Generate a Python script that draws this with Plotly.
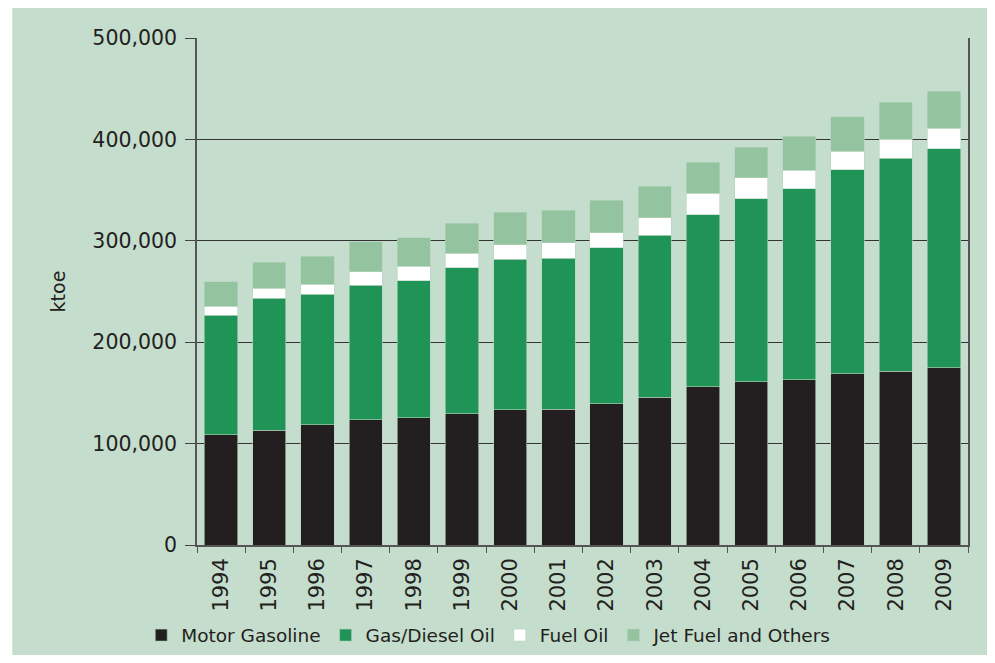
import plotly.graph_objects as go

years = [str(y) for y in range(1994, 2010)]

# ktoe
motor_gasoline = [108500, 113100, 118700, 123600, 125600, 129200, 133500, 133800,
                  139400, 145600, 156100, 161100, 163000, 168900, 171300, 174900]
gas_diesel_oil = [118300, 130200, 128800, 132800, 135100, 144300, 148500, 149200,
                  153800, 160100, 169700, 180500, 188500, 201300, 210100, 216000]
fuel_oil = [8900, 9900, 9900, 13200, 14400, 14100, 13900, 15100,
            14800, 16800, 21000, 20700, 18000, 18100, 18700, 20300]
jet_fuel_others = [23700, 25600, 27600, 29500, 28000, 29600, 32200, 31900,
                   31900, 31500, 30600, 30200, 33500, 33800, 36700, 36500]

series = [
    ("Motor Gasoline", motor_gasoline, "#231f20"),
    ("Gas/Diesel Oil", gas_diesel_oil, "#1f9456"),
    ("Fuel Oil", fuel_oil, "#ffffff"),
    ("Jet Fuel and Others", jet_fuel_others, "#93c39f"),
]

bg = "#c5ddcc"
txt = "#231f20"
font = "DejaVu Sans"

fig = go.Figure()
for name, vals, col in series:
    fig.add_trace(go.Bar(
        x=years, y=vals, name=name,
        marker=dict(color=col, line=dict(color="#b5d3bd", width=0.6)),
    ))

# page body has an 8px margin; keep the figure inside the window
fig.update_layout(
    barmode="stack",
    bargap=0.31,
    width=987, height=647,
    margin=dict(l=189, r=27, t=30, b=110),
    paper_bgcolor="white",
    plot_bgcolor="rgba(0,0,0,0)",
    font=dict(family=font, size=19, color=txt),
    showlegend=True,
    legend=dict(
        orientation="h", xref="container", yref="container",
        x=0.135, y=0.03, xanchor="left", yanchor="middle",
        font=dict(family=font, size=18.5, color=txt),
        bgcolor="rgba(0,0,0,0)", itemwidth=30, traceorder="normal",
    ),
    shapes=[dict(
        type="rect", xref="paper", yref="paper", layer="below",
        x0=-0.2396, x1=1.04, y0=-0.25, y1=1.06,
        fillcolor=bg, line=dict(width=0),
    )],
)

fig.update_xaxes(
    type="category",
    showline=True, linecolor="#555555", linewidth=1.5,
    ticks="outside", tickson="boundaries", ticklen=6, tickcolor="#555555",
    ticklabelstandoff=3,
    tickangle=-90, tickfont=dict(family=font, size=21, color=txt),
    showgrid=False, automargin=False,
)
fig.update_yaxes(
    range=[0, 500000], dtick=100000,
    tickformat=",d",
    showline=True, linecolor="#555555", linewidth=1.5, mirror=True,
    ticks="outside", ticklen=10, tickcolor="#444444", ticklabelstandoff=4,
    showgrid=True, gridcolor="#333333", gridwidth=1.3,
    zeroline=False, automargin=False,
    tickfont=dict(family=font, size=20.5, color=txt),
    title=dict(text="ktoe", font=dict(family=font, size=19, color=txt), standoff=22),
)

fig.write_html("out.html")
